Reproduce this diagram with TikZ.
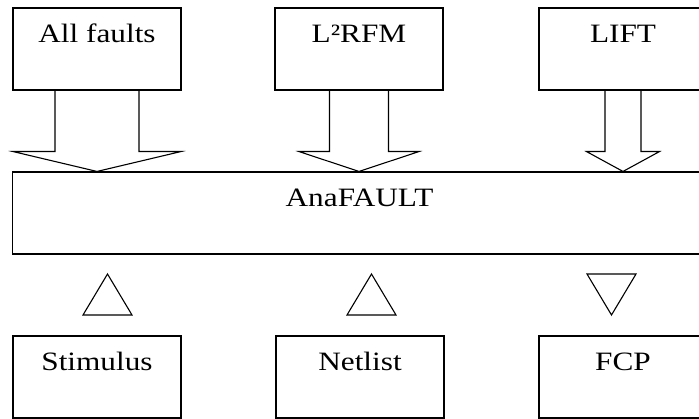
\documentclass[tikz,border=0pt]{standalone}
\usepackage{fontspec}
\setmainfont{Liberation Serif}[FakeStretch=1.18]
\usepackage{tikz}
\usetikzlibrary{positioning,calc}

\tikzset{
  blockbox/.style={draw, line width=1.1pt, minimum width=168pt,
    inner xsep=0pt, inner ysep=0pt, text height=35pt, text depth=47pt,
    font=\fontsize{26.5}{26.5}\selectfont},
  outline/.style={draw, line width=1.1pt, line join=miter}
}

\begin{document}
\begin{tikzpicture}[x=1pt, y=-1pt]
  \clip (0,0) rectangle (699,419);
  % top row: fault sources
  \node[blockbox] (faults) at (97,49) {All faults};
  \node[blockbox] (l2rfm) at (359,49) {L²RFM};
  \node[blockbox] (lift) at (623,49) {LIFT};
  % simulator
  \node[blockbox, minimum width=694pt] (ana) at (359.5,213) {AnaFAULT};
  % bottom row
  \node[blockbox] (stim) at (97,377) {Stimulus};
  \node[blockbox] (net) at (360,377) {Netlist};
  \node[blockbox] (fcp) at (623,377) {FCP};
  % block arrows into AnaFAULT: node / shaft half width / head half width
  \foreach \src/\sw/\hw in {faults/42/84, l2rfm/29.5/60, lift/18/36.5}{
    \draw[outline] ($(\src.south)+(-\sw,0)$) -- ($(\src.south)+(-\sw,61)$)
      -- ($(\src.south)+(-\hw,61)$) -- (\src.south |- ana.north)
      -- ($(\src.south)+(\hw,61)$) -- ($(\src.south)+(\sw,61)$)
      -- ($(\src.south)+(\sw,0)$);
  }
  % small triangles: apex x / apex y / base y
  \foreach \x/\ya/\yb in {107.5/274/315, 371.5/274/315, 611.5/315/274}{
    \draw[outline] (\x,\ya) -- (\x+24.5,\yb) -- (\x-24.5,\yb) -- cycle;
  }
\end{tikzpicture}
\end{document}
